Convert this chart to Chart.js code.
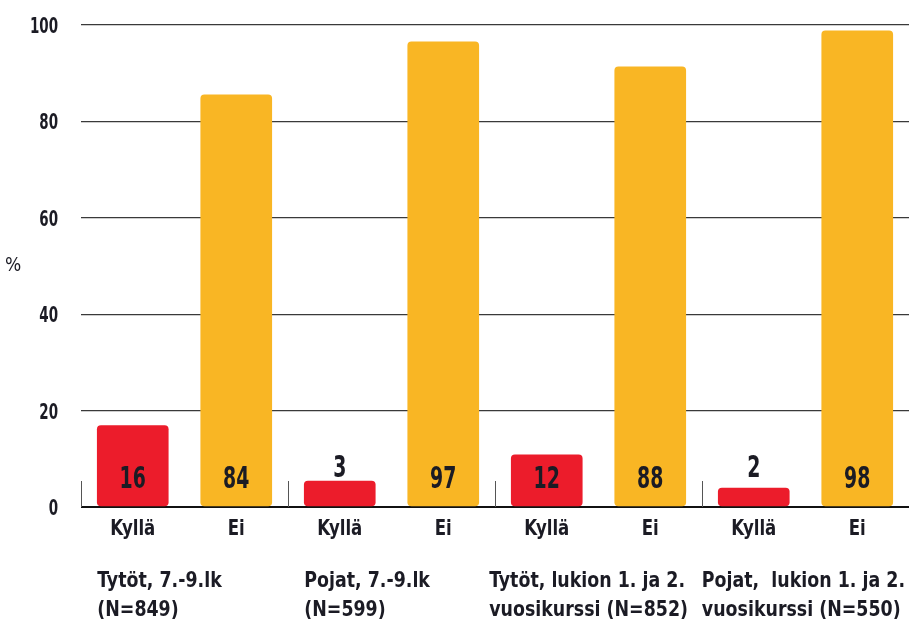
<!DOCTYPE html>
<html>
<head>
<meta charset="utf-8">
<script src="https://cdn.jsdelivr.net/npm/chart.js@4"></script>
<style>
  body { margin: 0; background: #fff; }
</style>
</head>
<body>
<canvas id="grafica" width="909" height="621"></canvas>
<script>
// Datos del gráfico
const categorias = ["Kyllä", "Ei", "Kyllä", "Ei", "Kyllä", "Ei", "Kyllä", "Ei"];
const alturas = [16.9, 85.5, 5.4, 96.5, 10.8, 91.3, 3.9, 98.8];
const etiquetasValor = ["16", "84", "3", "97", "12", "88", "2", "98"];
const grupos = [
  ["Tytöt, 7.-9.lk", "(N=849)"],
  ["Pojat, 7.-9.lk", "(N=599)"],
  ["Tytöt, lukion 1. ja 2.", "vuosikurssi (N=852)"],
  ["Pojat,  lukion 1. ja 2.", "vuosikurssi (N=550)"],
];
const ticksY = [0, 20, 40, 60, 80, 100];

const ROJO = "#ec1c2b";
const AMARILLO = "#f9b624";
const TEXTO = "#1b1b24";
const FUENTE = "'DejaVu Sans Condensed', 'DejaVu Sans', sans-serif";

const colores = categorias.map((c) => (c === "Kyllä" ? ROJO : AMARILLO));

// Texto estrecho (la fuente original es condensada)
function texto(ctx, str, x, y, alinear, tam, peso, escalaX) {
  ctx.save();
  ctx.font = `${peso} ${tam}px ${FUENTE}`;
  ctx.textAlign = alinear;
  ctx.translate(x, y);
  ctx.scale(escalaX, 1);
  ctx.fillText(str, 0, 0);
  ctx.restore();
}

function anchoTexto(ctx, str, tam, peso, escalaX) {
  ctx.save();
  ctx.font = `${peso} ${tam}px ${FUENTE}`;
  const w = ctx.measureText(str).width * escalaX;
  ctx.restore();
  return w;
}

// Plugin para textos: ejes, %, grupos, separadores y valores
const extras = {
  id: "extras",
  afterDatasetsDraw(chart) {
    const { ctx, chartArea, scales } = chart;
    const x = scales.x;
    const y = scales.y;
    const base = y.getPixelForValue(0);
    ctx.save();
    ctx.fillStyle = TEXTO;
    ctx.textBaseline = "alphabetic";

    // separadores de grupo
    ctx.strokeStyle = "#555";
    ctx.lineWidth = 1;
    const limites = [chartArea.left];
    for (let i = 2; i < categorias.length; i += 2) {
      limites.push((x.getPixelForValue(i - 1) + x.getPixelForValue(i)) / 2);
    }
    limites.forEach((px) => {
      ctx.beginPath();
      ctx.moveTo(Math.round(px) + 0.5, base - 26);
      ctx.lineTo(Math.round(px) + 0.5, base);
      ctx.stroke();
    });

    // etiquetas del eje Y
    ticksY.forEach((v) => {
      texto(ctx, String(v), 58, y.getPixelForValue(v) + 8, "right", 22, "bold", 0.68);
    });

    // etiquetas del eje X
    categorias.forEach((c, i) => {
      texto(ctx, c, x.getPixelForValue(i), base + 28, "center", 21, "bold", 0.88);
    });

    // etiquetas de valor
    const meta = chart.getDatasetMeta(0);
    meta.data.forEach((barra, i) => {
      const alto = base - barra.y;
      const yTexto = alto > 40 ? base - 19 : base - 30;
      texto(ctx, etiquetasValor[i], barra.x, yTexto, "center", 30, "bold", 0.7);
    });

    // etiquetas de grupo
    grupos.forEach((lineas, g) => {
      const barra = meta.data[g * 2];
      const izquierda = barra.x - barra.width / 2;
      const ultimo = g + 1 >= limites.length;
      const derecha = ultimo ? chartArea.right : limites[g + 1];
      const ancho = Math.max(...lineas.map((l) => anchoTexto(ctx, l, 22, "bold", 0.88)));
      const px = Math.min(izquierda, derecha - ancho - (ultimo ? 4 : 14));
      texto(ctx, lineas[0], px, base + 80, "left", 22, "bold", 0.88);
      texto(ctx, lineas[1], px, base + 109, "left", 22, "bold", 0.88);
    });

    // título del eje Y
    texto(ctx, "%", 13, 271, "center", 19, "normal", 1);

    ctx.restore();
  },
};

new Chart(document.getElementById("grafica"), {
  type: "bar",
  data: {
    labels: categorias,
    datasets: [
      {
        data: alturas,
        backgroundColor: colores,
        borderRadius: 4,
        borderSkipped: false,
        barThickness: 71,
      },
    ],
  },
  options: {
    responsive: false,
    animation: false,
    layout: { padding: { top: 25, right: 0, bottom: 0, left: 0 } },
    plugins: {
      legend: { display: false },
      tooltip: { enabled: false },
    },
    scales: {
      x: {
        grid: { display: false, drawTicks: false },
        border: { display: false },
        ticks: { display: false },
        afterFit: (escala) => {
          escala.height = 114;
        },
      },
      y: {
        min: 0,
        max: 100,
        afterBuildTicks: (escala) => {
          escala.ticks = ticksY.map((v) => ({ value: v }));
        },
        grid: {
          drawTicks: false,
          color: (c) => (c.tick && c.tick.value === 0 ? "#111" : "#3a3a3a"),
          lineWidth: (c) => (c.tick && c.tick.value === 0 ? 2 : 1.3),
        },
        border: { display: false },
        ticks: { display: false },
        afterFit: (escala) => {
          escala.width = 81;
        },
      },
    },
  },
  plugins: [extras],
});
</script>
</body>
</html>
